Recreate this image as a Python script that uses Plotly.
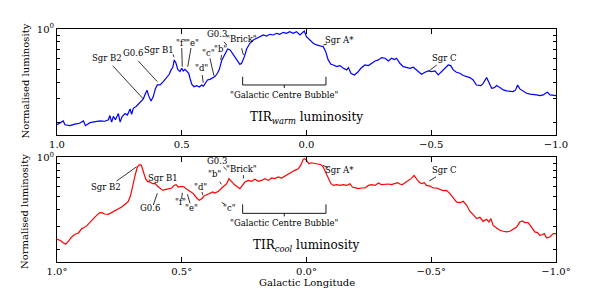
import plotly.graph_objects as go

# ---------------- data ----------------
warm_lon = [1.000, 0.988, 0.975, 0.968, 0.948, 0.928, 0.910, 0.894, 0.886, 0.868, 0.848, 0.828, 0.808, 0.794, 0.788,
            0.781, 0.774, 0.766, 0.754, 0.747, 0.739, 0.727, 0.718, 0.707, 0.701, 0.694, 0.683, 0.674, 0.665, 0.654,
            0.645, 0.639, 0.633, 0.623, 0.614, 0.606, 0.598, 0.587, 0.574, 0.560, 0.550, 0.543, 0.536, 0.530, 0.523,
            0.516, 0.507, 0.500, 0.494, 0.487, 0.480, 0.472, 0.467, 0.460, 0.451, 0.440, 0.430, 0.420, 0.413, 0.405,
            0.397, 0.387, 0.377, 0.367, 0.357, 0.349, 0.340, 0.326, 0.316, 0.306, 0.293, 0.280, 0.267, 0.260, 0.249,
            0.240, 0.227, 0.213, 0.200, 0.187, 0.173, 0.160, 0.147, 0.133, 0.120, 0.107, 0.093, 0.080, 0.067, 0.053,
            0.040, 0.026, 0.017, 0.009, 0.000, -0.013, -0.027, -0.040, -0.054, -0.067, -0.077, -0.087, -0.098, -0.108,
            -0.121, -0.134, -0.148, -0.161, -0.168, -0.178, -0.192, -0.205, -0.218, -0.234, -0.248, -0.261, -0.275,
            -0.288, -0.301, -0.315, -0.328, -0.341, -0.352, -0.361, -0.374, -0.388, -0.401, -0.415, -0.428, -0.441,
            -0.461, -0.475, -0.488, -0.502, -0.515, -0.528, -0.542, -0.555, -0.568, -0.578, -0.588, -0.601, -0.615,
            -0.628, -0.642, -0.655, -0.668, -0.681, -0.699, -0.708, -0.722, -0.731, -0.742, -0.753, -0.762, -0.775,
            -0.789, -0.802, -0.815, -0.828, -0.838, -0.846, -0.855, -0.869, -0.882, -0.896, -0.909, -0.922, -0.936,
            -0.949, -0.958, -0.966, -0.976, -0.989, -1.000]
warm_lum = [0.191, 0.196, 0.204, 0.191, 0.188, 0.193, 0.196, 0.204, 0.188, 0.198, 0.202, 0.204, 0.203, 0.208, 0.224,
            0.200, 0.221, 0.208, 0.232, 0.200, 0.220, 0.232, 0.226, 0.251, 0.229, 0.254, 0.262, 0.272, 0.282, 0.299,
            0.329, 0.347, 0.316, 0.288, 0.311, 0.355, 0.380, 0.380, 0.403, 0.432, 0.457, 0.493, 0.513, 0.586, 0.553,
            0.498, 0.479, 0.507, 0.484, 0.498, 0.484, 0.465, 0.427, 0.385, 0.369, 0.376, 0.367, 0.380, 0.372, 0.389,
            0.414, 0.419, 0.432, 0.439, 0.465, 0.500, 0.580, 0.657, 0.708, 0.696, 0.638, 0.586, 0.543, 0.553, 0.620,
            0.708, 0.781, 0.827, 0.851, 0.876, 0.902, 0.886, 0.912, 0.902, 0.928, 0.912, 0.944, 0.928, 0.955, 0.928,
            0.955, 0.902, 0.944, 0.966, 0.876, 0.827, 0.781, 0.759, 0.750, 0.737, 0.676, 0.586, 0.543, 0.537,
            0.522, 0.531, 0.507, 0.493, 0.513, 0.465, 0.452, 0.473, 0.507, 0.537, 0.531, 0.553, 0.575,
            0.586, 0.610, 0.603, 0.575, 0.603, 0.589, 0.603, 0.553, 0.522, 0.513, 0.507, 0.516, 0.493,
            0.457, 0.473, 0.484, 0.479, 0.484, 0.452, 0.479, 0.507, 0.537, 0.531, 0.493, 0.473, 0.465,
            0.447, 0.439, 0.432, 0.414, 0.380, 0.376, 0.391, 0.432, 0.398, 0.359, 0.363, 0.376, 0.363,
            0.349, 0.343, 0.339, 0.339, 0.349, 0.380, 0.355, 0.339, 0.329, 0.324, 0.320, 0.320, 0.316,
            0.320, 0.329, 0.335, 0.320, 0.316, 0.316]

cool_lon = [1.000, 0.988, 0.975, 0.965, 0.955, 0.941, 0.928, 0.914, 0.901, 0.894, 0.881, 0.868, 0.854, 0.841, 0.830,
            0.821, 0.808, 0.794, 0.781, 0.768, 0.754, 0.741, 0.727, 0.714, 0.705, 0.697, 0.687, 0.678, 0.670, 0.662,
            0.654, 0.645, 0.637, 0.627, 0.617, 0.606, 0.598, 0.587, 0.576, 0.567, 0.554, 0.540, 0.531, 0.523, 0.514,
            0.500, 0.490, 0.480, 0.467, 0.454, 0.440, 0.430, 0.420, 0.411, 0.400, 0.387, 0.376, 0.367, 0.353, 0.340,
            0.329, 0.320, 0.311, 0.303, 0.293, 0.284, 0.273, 0.267, 0.257, 0.247, 0.233, 0.220, 0.207, 0.193, 0.180,
            0.167, 0.153, 0.140, 0.127, 0.113, 0.100, 0.087, 0.073, 0.060, 0.047, 0.033, 0.022, 0.013, 0.007, 0.000,
            -0.010, -0.020, -0.034, -0.047, -0.058, -0.067, -0.077, -0.087, -0.098, -0.108, -0.121, -0.134, -0.148,
            -0.161, -0.174, -0.184, -0.194, -0.208, -0.221, -0.234, -0.248, -0.261, -0.275, -0.288, -0.301, -0.315,
            -0.328, -0.341, -0.355, -0.365, -0.374, -0.384, -0.395, -0.408, -0.419, -0.431, -0.441, -0.451, -0.461,
            -0.472, -0.481, -0.495, -0.508, -0.521, -0.535, -0.548, -0.561, -0.575, -0.588, -0.602, -0.615, -0.628,
            -0.642, -0.655, -0.668, -0.682, -0.695, -0.708, -0.722, -0.731, -0.739, -0.748, -0.762, -0.775, -0.788,
            -0.802, -0.815, -0.828, -0.842, -0.855, -0.865, -0.875, -0.888, -0.902, -0.915, -0.926, -0.935, -0.945,
            -0.953, -0.962, -0.975, -0.989, -1.000]
cool_lum = [0.238, 0.234, 0.224, 0.218, 0.230, 0.248, 0.260, 0.266, 0.287, 0.290, 0.301, 0.322, 0.342, 0.362, 0.378,
            0.380, 0.371, 0.369, 0.380, 0.391, 0.407, 0.419, 0.440, 0.463, 0.514, 0.612, 0.730, 0.845, 0.880, 0.870,
            0.783, 0.689, 0.657, 0.649, 0.631, 0.631, 0.605, 0.578, 0.561, 0.568, 0.578, 0.585, 0.612, 0.620, 0.595,
            0.602, 0.595, 0.571, 0.552, 0.530, 0.491, 0.471, 0.485, 0.508, 0.520, 0.530, 0.545, 0.535, 0.552, 0.585,
            0.612, 0.631, 0.689, 0.657, 0.631, 0.612, 0.585, 0.578, 0.612, 0.649, 0.668, 0.657, 0.681, 0.657, 0.668,
            0.689, 0.668, 0.697, 0.689, 0.709, 0.697, 0.721, 0.751, 0.774, 0.797, 0.820, 0.880, 0.966, 0.977, 0.949,
            0.895, 0.910, 0.895, 0.890, 0.880, 0.845, 0.774, 0.689, 0.631, 0.612, 0.620, 0.612, 0.620,
            0.612, 0.631, 0.595, 0.585, 0.578, 0.585, 0.585, 0.612, 0.620, 0.612, 0.638, 0.620, 0.627,
            0.627, 0.620, 0.631, 0.642, 0.627, 0.620, 0.642, 0.668, 0.689, 0.730, 0.681, 0.649, 0.631,
            0.642, 0.612, 0.605, 0.585, 0.585, 0.571, 0.558, 0.561, 0.530, 0.491, 0.457, 0.452, 0.463,
            0.432, 0.388, 0.367, 0.342, 0.350, 0.326, 0.338, 0.322, 0.342, 0.304, 0.290, 0.279, 0.274,
            0.271, 0.274, 0.284, 0.295, 0.322, 0.328, 0.319, 0.319, 0.295, 0.271, 0.268, 0.255, 0.258,
            0.263, 0.244, 0.248, 0.263, 0.263]

x_tickvals = [1.0, 0.5, 0.0, -0.5, -1.0]
top_ticktext = ["1.0", "0.5", "0.0", "\u22120.5", "\u22121.0"]
bot_ticktext = ["1.0\u00b0", "0.5\u00b0", "0.0\u00b0", "\u22120.5\u00b0", "\u22121.0\u00b0"]
y_minor_vals = [0.2, 0.3, 0.4, 0.5, 0.6, 0.7, 0.8, 0.9]

# labels: text, text (lon, domain-frac), leader line ((lon0,f0),(lon1,f1)) or None
warm_labels = [
    ("Sgr B2", 0.800, 0.726, (0.777, 0.654, 0.654, 0.340)),
    ("G0.6", 0.695, 0.774, (0.674, 0.698, 0.598, 0.503)),
    ("Sgr B1", 0.591, 0.802, (0.535, 0.760, 0.531, 0.735)),
    ("\"f\"", 0.500, 0.871, (0.500, 0.821, 0.498, 0.644)),
    ("\"e\"", 0.455, 0.871, (0.463, 0.821, 0.476, 0.644)),
    ("\"d\"", 0.420, 0.629, (0.418, 0.566, 0.414, 0.493)),
    ("\"c\"", 0.394, 0.771, (0.387, 0.724, 0.371, 0.559)),
    ("\"b\"", 0.344, 0.811, (0.340, 0.755, 0.344, 0.708)),
    ("G0.3", 0.360, 0.950, (0.331, 0.880, 0.320, 0.849)),
    ("\"Brick\"", 0.260, 0.903, (0.260, 0.818, 0.253, 0.755)),
    ("Sgr A*", -0.134, 0.896, (-0.067, 0.849, -0.082, 0.858)),
    ("Sgr C", -0.555, 0.724, (-0.522, 0.660, -0.492, 0.607)),
]
cool_labels = [
    ("Sgr B2", 0.805, 0.713, (0.761, 0.774, 0.681, 0.910)),
    ("Sgr B1", 0.574, 0.805, None),
    ("G0.6", 0.627, 0.513, (0.614, 0.544, 0.598, 0.656)),
    ("\"f\"", 0.507, 0.576, (0.500, 0.608, 0.498, 0.662)),
    ("\"e\"", 0.460, 0.519, (0.467, 0.561, 0.477, 0.647)),
    ("\"d\"", 0.424, 0.719, (0.419, 0.669, 0.416, 0.640)),
    ("\"c\"", 0.307, 0.519, (0.340, 0.570, 0.327, 0.551)),
    ("\"b\"", 0.367, 0.838, (0.347, 0.767, 0.341, 0.742)),
    ("G0.3", 0.360, 0.965, (0.333, 0.910, 0.320, 0.879)),
    ("\"Brick\"", 0.260, 0.885, (0.253, 0.831, 0.253, 0.799)),
    ("Sgr A*", -0.134, 0.879, (-0.065, 0.926, -0.087, 0.901)),
    ("Sgr C", -0.555, 0.879, (-0.519, 0.815, -0.492, 0.774)),
]
bubble_lon = [0.256, -0.078]
bubble_frac_top = (0.550, 0.472, 0.443, 0.377)
bubble_frac_bot = (0.551, 0.465, 0.436, 0.370)

FONT = "DejaVu Serif"

fig = go.Figure()
fig.add_trace(go.Scatter(x=warm_lon, y=warm_lum, mode="lines", line=dict(color="#0000ff", width=1.2),
                         xaxis="x", yaxis="y", showlegend=False, hoverinfo="skip"))
fig.add_trace(go.Scatter(x=cool_lon, y=cool_lum, mode="lines", line=dict(color="#ff0000", width=1.2),
                         xaxis="x2", yaxis="y2", showlegend=False, hoverinfo="skip"))

annotations = []
shapes = []


def add_labels(labels, xref, yref, bub, title):
    for text, lx, lf, ln in labels:
        annotations.append(dict(text=text, x=lx, y=lf, xref=xref, yref=yref, showarrow=False,
                                font=dict(family=FONT, size=8.5, color="black"),
                                xanchor="center", yanchor="middle"))
        if ln is not None:
            shapes.append(dict(type="line", xref=xref, yref=yref, x0=ln[0], y0=ln[1], x1=ln[2], y1=ln[3],
                               line=dict(color="black", width=0.8)))
    l0, l1 = bubble_lon
    ftop, fbar, ftick, ftext = bub
    mid = (l0 + l1) / 2
    for (xa, ya, xb, yb) in [(l0, ftop, l0, fbar), (l1, ftop, l1, fbar), (l0, fbar, l1, fbar), (mid, fbar, mid, ftick)]:
        shapes.append(dict(type="line", xref=xref, yref=yref, x0=xa, y0=ya, x1=xb, y1=yb,
                           line=dict(color="black", width=0.9)))
    annotations.append(dict(text="\"Galactic Centre Bubble\"", x=mid, y=ftext, xref=xref, yref=yref,
                            showarrow=False, font=dict(family=FONT, size=8.5, color="black"),
                            xanchor="center", yanchor="middle"))
    annotations.append(dict(text=title, x=0.0, y=bub[3] - 0.215, xref=xref, yref=yref,
                            showarrow=False, font=dict(family=FONT, size=12, color="black"),
                            xanchor="center", yanchor="middle"))


add_labels(warm_labels, "x", "y domain", bubble_frac_top, "TIR<sub><i>warm</i></sub> luminosity")
add_labels(cool_labels, "x2", "y2 domain", bubble_frac_bot, "TIR<sub><i>cool</i></sub> luminosity")

for ycen in (0.775, 0.215):
    annotations.append(dict(text="Normalised luminosity", x=-0.064, y=ycen, xref="paper", yref="paper",
                            textangle=-90, showarrow=False, xanchor="center", yanchor="middle",
                            font=dict(family=FONT, size=10, color="black")))
annotations.append(dict(text="Galactic Longitude", x=0.5, y=-0.086, xref="paper", yref="paper",
                        showarrow=False, font=dict(family=FONT, size=10, color="black"),
                        xanchor="center", yanchor="middle"))

xcommon = dict(range=[1.0, -1.0], tickmode="array", tickvals=x_tickvals, ticks="inside", ticklen=5,
               tickcolor="black", showline=True, linecolor="black", linewidth=1, mirror="ticks",
               showgrid=False, zeroline=False, tickfont=dict(family=FONT, size=10, color="black"))
ycommon = dict(type="log", range=[-0.796, 0.0], tickmode="array", tickvals=[1.0],
               ticktext=["10<sup>0</sup>"], ticks="inside", ticklen=5, tickcolor="black",
               minor=dict(tickmode="array", tickvals=y_minor_vals, ticks="inside", ticklen=3,
                          tickcolor="black", showgrid=False),
               showline=True, linecolor="black", linewidth=1, mirror="ticks", showgrid=False,
               zeroline=False, tickfont=dict(family=FONT, size=10, color="black"))

fig.update_layout(
    width=598, height=293,
    margin=dict(l=57, r=42, t=29, b=31, autoexpand=False),
    paper_bgcolor="white", plot_bgcolor="white",
    xaxis=dict(xcommon, domain=[0, 1], anchor="y", ticktext=top_ticktext),
    yaxis=dict(ycommon, domain=[0.545, 1.0], anchor="x"),
    xaxis2=dict(xcommon, domain=[0, 1], anchor="y2", ticktext=bot_ticktext),
    yaxis2=dict(ycommon, domain=[0.0, 0.449], anchor="x2"),
    annotations=annotations,
    shapes=shapes,
    showlegend=False,
    hovermode=False,
)

fig.write_html("out.html", config={"displayModeBar": False, "staticPlot": True},
               post_script="document.body.style.margin='0px';document.body.style.overflow='hidden';")
